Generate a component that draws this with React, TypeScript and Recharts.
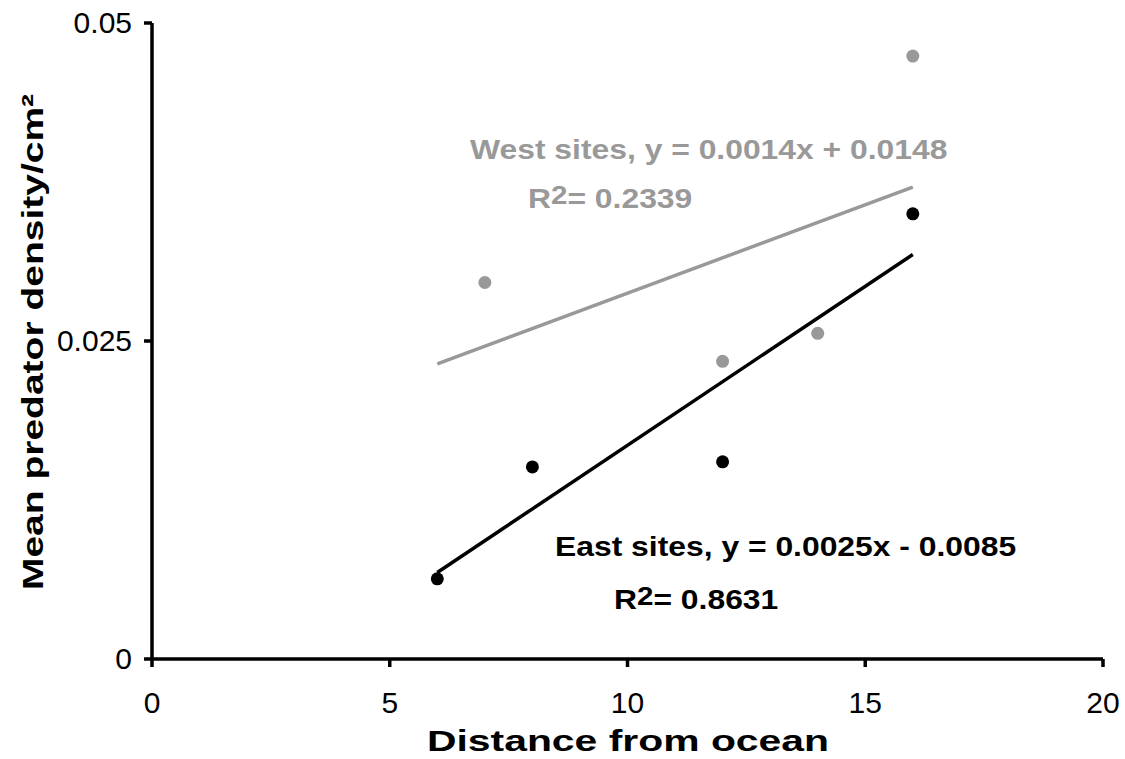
import React from 'react';
import { ComposedChart, Scatter, XAxis, YAxis, Customized } from 'recharts';

// values
const westX = [7, 12, 14, 16];
const westY = [0.0296, 0.0234, 0.0256, 0.0474];
const eastX = [6, 8, 12, 16];
const eastY = [0.0063, 0.0151, 0.0155, 0.035];

// trend line end points (fitted lines drawn from x=6 to x=16)
const trendX = [6, 16];
const westTrendY = [0.0232, 0.0371];
const eastTrendY = [0.0068, 0.0318];

const xTicks = [0, 5, 10, 15, 20];
const yTicks = [0, 0.025, 0.05];

const GRAY = '#999999';
const FONT = '"Liberation Sans", Arial, Helvetica, sans-serif';

const zip = (xs: number[], ys: number[]) => xs.map((x, i) => ({ x, y: ys[i] }));

const westData = zip(westX, westY);
const eastData = zip(eastX, eastY);
const westTrend = zip(trendX, westTrendY);
const eastTrend = zip(trendX, eastTrendY);

const WideText = ({ x, y, sx, size, fill = '#000', weight = 'bold', anchor = 'start', rotate = 0, children }: any) => (
  <text
    transform={`translate(${x},${y}) rotate(${rotate}) scale(${sx},1)`}
    textAnchor={anchor}
    fontFamily={FONT}
    fontSize={size}
    fontWeight={weight}
    fill={fill}
  >
    {children}
  </text>
);

const XTick = ({ x, y, payload }: any) => (
  <WideText x={x} y={y + 44} sx={1} size={30} weight="normal" anchor="middle">
    {payload.value}
  </WideText>
);

const YTick = ({ x, y, payload }: any) => (
  <WideText x={x - 10} y={y + 10} sx={1} size={30} weight="normal" anchor="end">
    {String(payload.value)}
  </WideText>
);

const dot = (fill: string) => (props: any) => <circle cx={props.cx} cy={props.cy} r={6.5} fill={fill} />;
const noDot = () => <g />;

const R2 = ({ x, y, fill, value }: any) => (
  <WideText x={x} y={y} sx={1.18} size={27} fill={fill}>
    R<tspan fontSize={25} dy={-4}>2</tspan>
    <tspan dy={4}>= {value}</tspan>
  </WideText>
);

const Annotations = () => (
  <g>
    <WideText x={470} y={159} sx={1.18} size={27} fill={GRAY}>
      West sites, y = 0.0014x + 0.0148
    </WideText>
    <R2 x={528} y={208} fill={GRAY} value="0.2339" />
    <WideText x={555} y={556} sx={1.18} size={27} fill="#000">
      East sites, y = 0.0025x - 0.0085
    </WideText>
    <R2 x={614} y={609} fill="#000" value="0.8631" />
    <WideText x={628} y={751} sx={1.41} size={29} anchor="middle">
      Distance from ocean
    </WideText>
    <WideText x={43} y={342} sx={1.3} size={30} anchor="middle" rotate={-90}>
      Mean predator density/cm²
    </WideText>
  </g>
);

export default function App() {
  return (
    <div style={{ position: 'absolute', left: 0, top: 0, width: 1125, height: 759, background: '#fff' }}>
      <ComposedChart width={1125} height={759} margin={{ top: 23, right: 22, bottom: 0, left: 0 }}>
        <XAxis
          type="number"
          dataKey="x"
          domain={[0, 20]}
          ticks={xTicks}
          height={100}
          axisLine={{ stroke: '#000', strokeWidth: 3.5 }}
          tickLine={{ stroke: '#000', strokeWidth: 3.5 }}
          tickSize={8}
          tick={<XTick />}
          allowDataOverflow
        />
        <YAxis
          type="number"
          dataKey="y"
          domain={[0, 0.05]}
          ticks={yTicks}
          width={152}
          axisLine={{ stroke: '#000', strokeWidth: 3.5 }}
          tickLine={{ stroke: '#000', strokeWidth: 3.5 }}
          tickSize={8}
          tick={<YTick />}
          allowDataOverflow
        />
        <Scatter data={westTrend} line={{ stroke: GRAY, strokeWidth: 3.5 }} shape={noDot} isAnimationActive={false} />
        <Scatter data={eastTrend} line={{ stroke: '#000', strokeWidth: 3.5 }} shape={noDot} isAnimationActive={false} />
        <Scatter data={westData} fill={GRAY} shape={dot(GRAY)} isAnimationActive={false} />
        <Scatter data={eastData} fill="#000" shape={dot('#000')} isAnimationActive={false} />
        <Customized component={Annotations} />
      </ComposedChart>
    </div>
  );
}
